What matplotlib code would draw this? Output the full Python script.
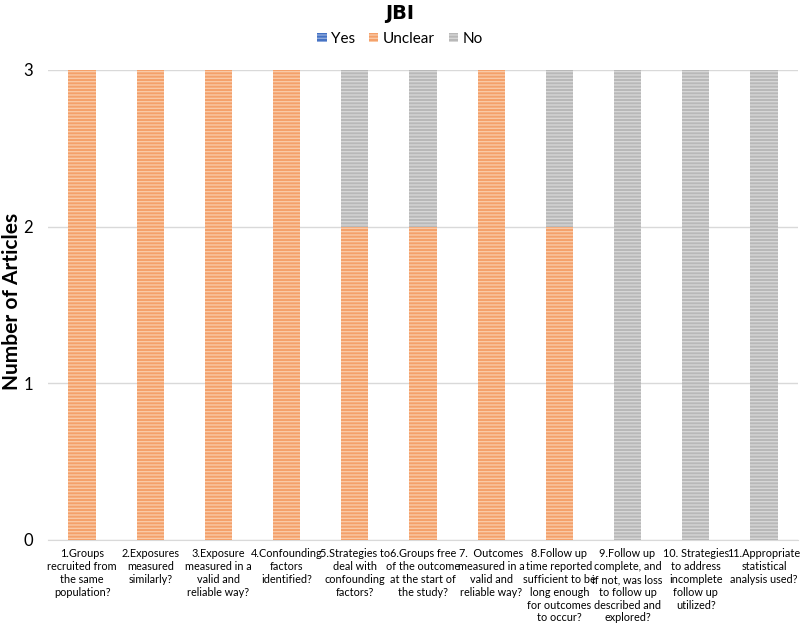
import matplotlib.pyplot as plt
import numpy as np

categories = [
    "1.Groups\nrecruited from\nthe same\npopulation?",
    "2.Exposures\nmeasured\nsimilarly?",
    "3.Exposure\nmeasured in a\nvalid and\nreliable way?",
    "4.Confounding\nfactors\nidentified?",
    "5.Strategies to\ndeal with\nconfounding\nfactors?",
    "6.Groups free\nof the outcome\nat the start of\nthe study?",
    "7.  Outcomes\nmeasured in a\nvalid and\nreliable way?",
    "8.Follow up\ntime reported\nsufficient to be\nlong enough\nfor outcomes\nto occur?",
    "9.Follow up\ncomplete, and\nif not, was loss\nto follow up\ndescribed and\nexplored?",
    "10. Strategies\nto address\nincomplete\nfollow up\nutilized?",
    "11.Appropriate\nstatistical\nanalysis used?",
]
yes = [0, 0, 0, 0, 0, 0, 0, 0, 0, 0, 0]
unclear = [3, 3, 3, 3, 2, 2, 3, 2, 0, 0, 0]
no = [0, 0, 0, 0, 1, 1, 0, 1, 3, 3, 3]

font = 'Lato'
plt.rcParams['hatch.linewidth'] = 1.0

fig = plt.figure(figsize=(8, 6.25), dpi=100)
ax = fig.add_axes([0.06, 0.136, 0.9375, 0.752])

x = np.arange(len(categories))
w = 0.4
yes_arr = np.array(yes)
unc_arr = np.array(unclear)
no_arr = np.array(no)

ax.bar(x, yes_arr, w, color='#4472C4', edgecolor='#8FAADC', hatch='-----', linewidth=0, label='Yes', zorder=3)
ax.bar(x, unc_arr, w, bottom=yes_arr, color='#F4A06A', edgecolor='#F9C9A6',
       hatch='-----', linewidth=0, label='Unclear', zorder=3)
ax.bar(x, no_arr, w, bottom=yes_arr + unc_arr, color='#B8B8B8', edgecolor='#D6D6D6',
       hatch='-----', linewidth=0, label='No', zorder=3)

ax.set_xlim(-0.5, len(categories) - 0.5)
ax.set_ylim(0, 3)
ax.set_yticks([0, 1, 2, 3])
ax.tick_params(axis='y', length=0, labelsize=12, pad=11)
ax.tick_params(axis='x', length=0, pad=6)
ax.set_xticks(x)
ax.set_xticklabels(categories, va='top', ha='center', linespacing=1.2,
                   fontsize=7.8, family=font)
for t in ax.get_yticklabels():
    t.set_family(font)
ax.grid(axis='y', color='#D9D9D9', linewidth=1, zorder=0)
for s in ['top', 'right', 'left']:
    ax.spines[s].set_visible(False)
ax.spines['bottom'].set_color('#D9D9D9')

fig.text(0.015, 0.517, 'Number of Articles', rotation=90, ha='center', va='center',
         fontsize=15, fontweight='bold', family=font)
fig.text(0.5, 0.978, 'JBI', ha='center', va='center', fontsize=14, fontweight='bold')
fig.legend(loc='center', bbox_to_anchor=(0.5, 0.938), ncol=3, frameon=False,
           prop={'family': font, 'size': 11}, handlelength=0.6, handleheight=0.6,
           handletextpad=0.3, columnspacing=0.9)

fig.savefig('out.png', dpi=100)
